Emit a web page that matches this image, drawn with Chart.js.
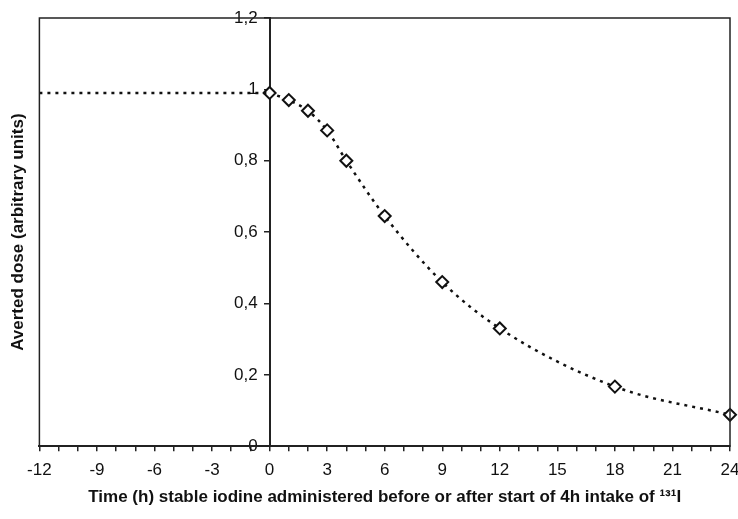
<!DOCTYPE html>
<html>
<head>
<meta charset="utf-8">
<script src="https://cdn.jsdelivr.net/npm/chart.js@4.4.1/dist/chart.umd.min.js"></script>
<style>
  html, body { margin: 0; padding: 0; background: #fff; }
</style>
</head>
<body>
<canvas id="doseChart" width="738" height="519"></canvas>
<script>
// Time (h) relative to start of intake, averted dose
const hours = [0, 1, 2, 3, 4, 6, 9, 12, 18, 24];
const avertedDose = [0.99, 0.97, 0.94, 0.885, 0.80, 0.645, 0.46, 0.33, 0.167, 0.088];
// plateau before intake
const plateauHours = [-12, 0];
const plateauDose = [0.99, 0.99];
const xLabelStep = 3;

const toPoints = (xs, ys) => xs.map((x, i) => ({ x: x, y: ys[i] }));

// Frame around the plot area
const framePlugin = {
  id: 'frame',
  afterDraw(chart) {
    const { ctx, chartArea } = chart;
    ctx.save();
    ctx.strokeStyle = '#222';
    ctx.lineWidth = 1.5;
    ctx.strokeRect(chartArea.left, chartArea.top, chartArea.right - chartArea.left, chartArea.bottom - chartArea.top);
    ctx.restore();
  }
};

// comma decimals, labels kept off the axis line
const fmt = v => String(Math.round(v * 10) / 10).replace('.', ',') + '\u2002\u2009';

const initChart = () => {
  const ctx = document.getElementById('doseChart').getContext('2d');
  new Chart(ctx, {
    type: 'line',
    data: {
      datasets: [{
        data: toPoints(plateauHours, plateauDose),
        borderColor: '#111',
        borderWidth: 2.5,
        borderDash: [3, 5],
        pointRadius: 0,
        fill: false
      }, {
        data: toPoints(hours, avertedDose),
        borderColor: '#111',
        borderWidth: 2.5,
        borderDash: [3, 5],
        cubicInterpolationMode: 'monotone',
        pointStyle: 'rectRot',
        pointRadius: 6,
        pointBorderWidth: 2,
        pointBackgroundColor: '#fff',
        pointBorderColor: '#111',
        clip: false,
        fill: false
      }]
    },
    options: {
      responsive: false,
      animation: false,
      layout: { padding: { top: 18, right: -2, left: 8, bottom: 11 } },
      plugins: {
        legend: { display: false },
        tooltip: { enabled: false }
      },
      scales: {
        x: {
          type: 'linear',
          min: -12,
          max: 24,
          afterFit: s => { s.paddingLeft = 0; s.paddingRight = 0; },
          grid: { drawOnChartArea: false, color: '#222', tickLength: 5, lineWidth: 1.5 },
          border: { color: '#222', width: 2 },
          ticks: {
            stepSize: 1,
            autoSkip: false,
            maxRotation: 0,
            color: '#111',
            font: { family: 'Liberation Sans', size: 17 },
            padding: 9,
            callback: v => (v % xLabelStep === 0 ? String(v) : '')
          },
          title: {
            display: true,
            text: 'Time (h) stable iodine administered before or after start of 4h intake of ¹³¹I',
            color: '#111',
            font: { family: 'Liberation Sans', size: 17, weight: 'bold' },
            padding: { top: -2, bottom: 0 }
          }
        },
        y: {
          min: 0,
          max: 1.2,
          position: { x: 0 },
          afterFit: s => { s.paddingTop = 0; s.paddingBottom = 0; },
          grid: { drawOnChartArea: false, color: '#222', tickLength: 5, lineWidth: 1.5 },
          border: { color: '#222', width: 2 },
          ticks: {
            stepSize: 0.2,
            color: '#111',
            font: { family: 'Liberation Sans', size: 17 },
            callback: v => fmt(v)
          }
        },
        yTitle: {
          type: 'linear',
          position: 'left',
          min: 0,
          max: 1.2,
          grid: { display: false, drawTicks: false },
          border: { display: false },
          ticks: { display: false },
          title: {
            display: true,
            text: 'Averted dose (arbitrary units)',
            color: '#111',
            font: { family: 'Liberation Sans', size: 17, weight: 'bold' },
            padding: { top: 0, bottom: 11 }
          }
        }
      }
    },
    plugins: [framePlugin]
  });
};

document.addEventListener('DOMContentLoaded', initChart);
</script>
</body>
</html>
